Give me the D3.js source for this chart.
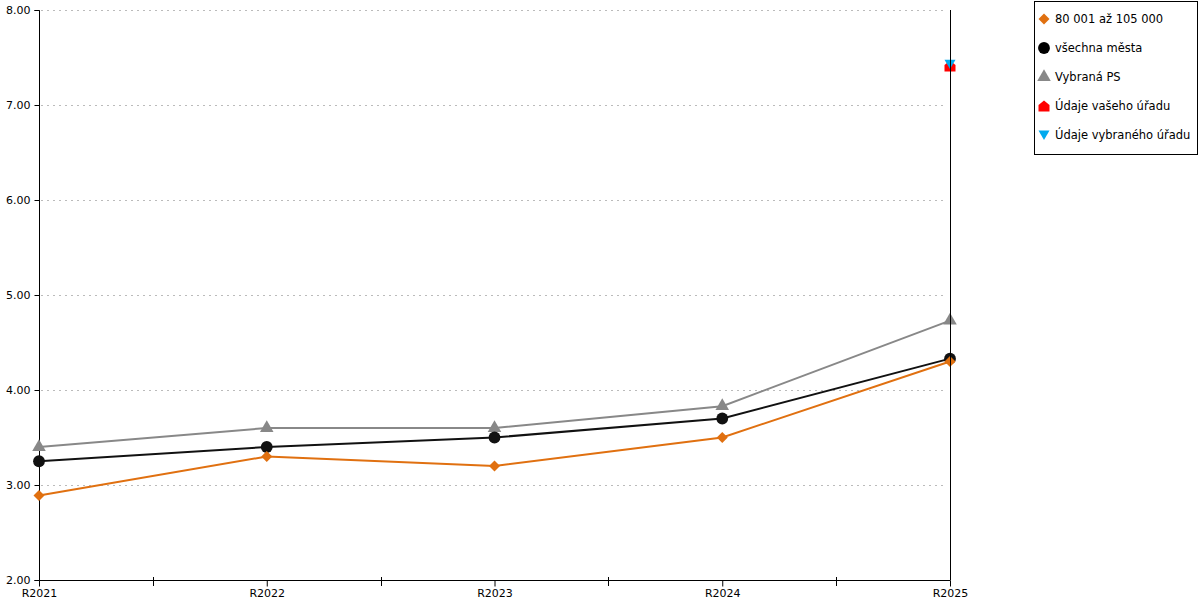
<!DOCTYPE html>
<html><head><meta charset="utf-8">
<script src="https://cdn.jsdelivr.net/npm/d3@7/dist/d3.min.js"></script>
<style>body{margin:0;background:#fff;} svg{display:block;font-family:"DejaVu Sans",Verdana,sans-serif;}</style>
</head><body><svg id="c" width="1200" height="600"></svg>
<script>
const categories = ["R2021","R2022","R2023","R2024","R2025"];
const yTicks = [2,3,4,5,6,7,8];
const seriesOrange = [2.89,3.30,3.20,3.50,4.30];
const seriesBlack = [3.25,3.40,3.50,3.70,4.33];
const seriesGrey = [3.40,3.60,3.60,3.83,4.73];
const officeYours = [{cat:"R2025", v:7.41}];
const officeSelected = [{cat:"R2025", v:7.43}];
const legendLabels = ["80 001 až 105 000","všechna města","Vybraná PS","Údaje vašeho úřadu","Údaje vybraného úřadu"];

const svg = d3.select("#c");
const L=39, R=950, T=10, B=580;
const x = d3.scalePoint().domain(categories).range([L,R]);
const y = d3.scaleLinear().domain([2,8]).range([B,T]);

// grid
svg.append("g").selectAll("line").data(yTicks.slice(1)).join("line")
  .attr("x1",L+2).attr("x2",R-3).attr("y1",d=>y(d)+0.5).attr("y2",d=>y(d)+0.5)
  .attr("stroke","#bbb").attr("stroke-dasharray","2,4").attr("stroke-width",1);

// y axis
const ya = svg.append("g").attr("transform",`translate(${L+0.5},0.5)`)
  .call(d3.axisLeft(y).tickValues(yTicks).tickFormat(d3.format(".2f")).tickSize(5).tickPadding(4).offset(0));
ya.select(".domain").attr("stroke","#000");
ya.selectAll("line").attr("stroke","#000");
ya.selectAll("text").attr("font-size",11).attr("fill","#000").attr("font-family","DejaVu Sans");

// x axis
const xa = svg.append("g").attr("transform",`translate(0.5,${B+0.5})`)
  .call(d3.axisBottom(x).tickSize(6).tickPadding(3).tickSizeOuter(0).offset(0));
xa.select(".domain").attr("stroke","#000");
xa.selectAll("text").attr("font-size",11).attr("fill","#000").attr("font-family","DejaVu Sans");
// minor midpoint ticks
const mids = categories.slice(1).map((c,i)=> Math.round((x(c)+x(categories[i]))/2)+0.5);
svg.append("g").selectAll("line").data(mids).join("line")
  .attr("x1",d=>d).attr("x2",d=>d).attr("y1",B-3).attr("y2",B+6).attr("stroke","#000");

const line = d3.line().x((d,i)=>x(categories[i])).y(d=>y(d));
function diamond(s){ return `M0,${-s}L${s},0L0,${s}L${-s},0Z`; }
function house(s){ return `M0,${-s}L${s},${-s*0.2}L${s},${s}L${-s},${s}L${-s},${-s*0.2}Z`; }
function triDown(s){ return `M${-s},${-s*0.8}L${s},${-s*0.8}L0,${s*0.9}Z`; }

function drawSeries(data,color,symD){
  svg.append("path").datum(data).attr("d",line).attr("fill","none").attr("stroke",color).attr("stroke-width",2);
  svg.append("g").selectAll("path").data(data).join("path")
    .attr("transform",(d,i)=>`translate(${x(categories[i])},${y(d)})`)
    .attr("d",symD).attr("fill",color);
}
drawSeries(seriesGrey,"#888888",d3.symbol().type(d3.symbolTriangle).size(80)());
drawSeries(seriesBlack,"#111111",d3.symbol().type(d3.symbolCircle).size(110)());
drawSeries(seriesOrange,"#e07010",diamond(5.5));

svg.append("g").selectAll("path").data(officeYours).join("path")
  .attr("transform",d=>`translate(${x(d.cat)},${y(d.v)})`).attr("d",house(5.5)).attr("fill","#ff0000");
svg.append("g").selectAll("path").data(officeSelected).join("path")
  .attr("transform",d=>`translate(${x(d.cat)},${y(d.v)})`).attr("d",triDown(5.5)).attr("fill","#00aaee");

// right vertical line (drawn on top)
svg.append("line").attr("x1",R+0.5).attr("x2",R+0.5).attr("y1",T).attr("y2",B).attr("stroke","#000").attr("stroke-width",1);

// legend
const lg = svg.append("g");
lg.append("rect").attr("x",1034.5).attr("y",1.5).attr("width",163).attr("height",153).attr("fill","#fff").attr("stroke","#000");
const legSyms = [
  {c:"#e07010", d:diamond(5.5)},
  {c:"#000000", d:d3.symbol().type(d3.symbolCircle).size(110)()},
  {c:"#888888", d:d3.symbol().type(d3.symbolTriangle).size(80)()},
  {c:"#ff0000", d:house(5.5)},
  {c:"#00aaee", d:triDown(5.5)}
];
const items = lg.selectAll("g").data(legendLabels).join("g")
  .attr("transform",(d,i)=>`translate(1044,${19+i*29})`);
items.append("path").attr("d",(d,i)=>legSyms[i].d).attr("fill",(d,i)=>legSyms[i].c);
items.append("text").attr("x",11).attr("y",4).attr("font-size",11.5).attr("fill","#000").text(d=>d);
</script></body></html>
